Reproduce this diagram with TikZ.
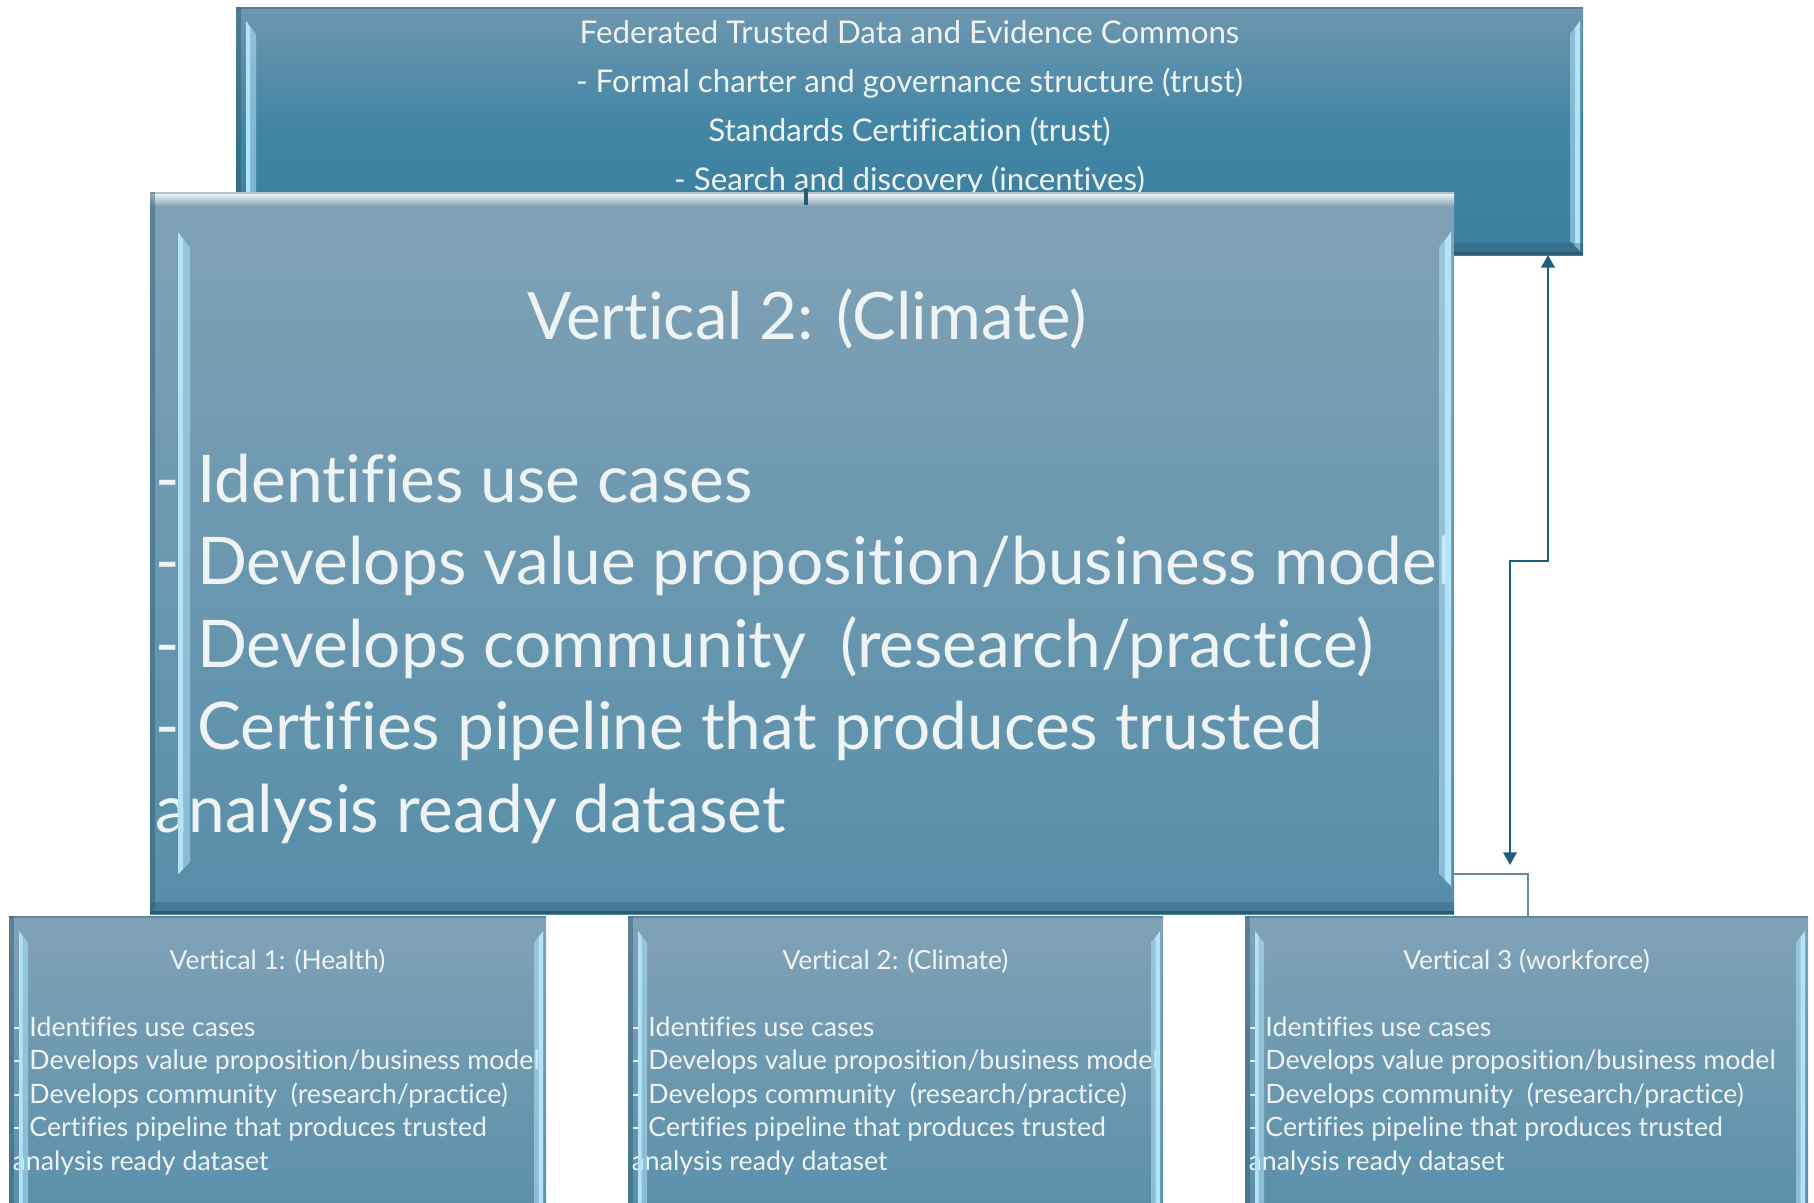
\documentclass[tikz,border=0pt]{standalone}
\usepackage{fontspec}
\setmainfont{Lato}[Ligatures=CommonOff]
\usetikzlibrary{calc,arrows.meta}

\definecolor{comunarriba}{HTML}{6E96AF}
\definecolor{comunmedio}{HTML}{4185A4}
\definecolor{comunabajo}{HTML}{3B7D9C}
\definecolor{cajaarriba}{HTML}{81A2B6}
\definecolor{cajaabajo}{HTML}{568EA9}
\definecolor{brillo}{HTML}{B2E3F8}
\definecolor{sombra}{HTML}{2C5A71}
\definecolor{texto}{HTML}{EEF3F6}
\definecolor{flecha}{HTML}{1E5F80}
\definecolor{gris}{HTML}{6D889B}

\tikzset{
  caja/.style={inner sep=0pt, outer sep=0pt, anchor=north west, draw=none,
    top color=cajaarriba, bottom color=cajaabajo},
  comun/.style={caja, top color=comunarriba, bottom color=comunabajo, middle color=comunmedio},
  textochico/.style={text=texto, inner sep=0pt, font=\fontsize{7.6pt}{9pt}\selectfont},
  textogrande/.style={text=texto, inner sep=0pt, font=\fontsize{18.7pt}{22pt}\selectfont},
  textocomun/.style={text=texto, inner sep=0pt, font=\fontsize{8.9pt}{10pt}\selectfont},
  flechas/.style={flecha, line width=0.7pt, {Triangle[length=3.6pt,width=3.8pt]}-{Triangle[length=3.6pt,width=3.8pt]}},
}

% caja rectangular: nombre, esquina superior izquierda, esquina inferior derecha, estilo
\newcommand{\caja}[6]{%
  \node[#6, minimum width={(#4-#2)*0.01cm}, minimum height={(#5-#3)*0.01cm}] (#1) at (#2,#3) {};}

% bisel de la caja: nombre, separacion del brillo, ancho del brillo, inicio
\newcommand{\bisel}[4]{%
  \fill[sombra, opacity=0.45] (#1.north west) rectangle ($(#1.south west)+(5,0)$);
  \fill[sombra, opacity=0.35] (#1.north west) rectangle ($(#1.north east)+(0,2)$);
  \fill[brillo, opacity=0.55] ($(#1.north west)+(#2,#4)$) -- ($(#1.north west)+(#2+#3,#4+1.3*#3)$)
    -- ($(#1.south west)+(#2+#3,-#4-#3)$) -- ($(#1.south west)+(#2,-#4)$) -- cycle;
  \fill[brillo] ($(#1.north west)+(#2,#4)$) -- ($(#1.north west)+(#2+0.4*#3,#4+0.6*#3)$)
    -- ($(#1.south west)+(#2+0.4*#3,-#4-0.4*#3)$) -- ($(#1.south west)+(#2,-#4)$) -- cycle;
  \fill[brillo, opacity=0.55] ($(#1.north east)+(-3-#3,#4+1.3*#3)$) -- ($(#1.north east)+(-3,#4)$)
    -- ($(#1.south east)+(-3,-#4+#3)$) -- ($(#1.south east)+(-3-#3,-#4)$) -- cycle;
  \fill[brillo] ($(#1.north east)+(-3-0.5*#3,#4+0.7*#3)$) -- ($(#1.north east)+(-3,#4)$)
    -- ($(#1.south east)+(-3,-#4+#3)$) -- ($(#1.south east)+(-3-0.5*#3,-#4+0.5*#3)$) -- cycle;
  \fill[sombra, opacity=0.35] ($(#1.south west)+(0,-12)$) rectangle (#1.south east);
  \fill[sombra] ($(#1.south west)+(0,-3)$) rectangle (#1.south east);}

\begin{document}
\begin{tikzpicture}[x=0.01cm, y=-0.01cm]

    \useasboundingbox (0,0) rectangle (1814,1203);
    \clip (0,0) rectangle (1814,1203);

    % Caja superior
    \caja{comun}{236}{7}{1583}{255}{comun}
    \bisel{comun}{10}{10}{14}
    \foreach \linea [count=\i from 0] in {Federated Trusted Data and Evidence Commons,
        - Formal charter and governance structure (trust),
        Standards Certification (trust),
        - Search and discovery (incentives)}
        \node[textocomun, anchor=base] (comun-\i) at ($(comun.north)+(0,36+\i*49)$) {\linea};

    % Caja grande del centro
    \caja{grande}{150}{192}{1454}{914}{caja}
    \shade[top color=white, bottom color=cajaarriba] (grande.north west) rectangle ($(grande.north east)+(0,14)$);
    \begin{scope}
        \clip (grande.north west) rectangle (grande.south east);
        \node[textogrande, font=\fontsize{18.6pt}{22pt}\selectfont, anchor=base] (grande-titulo)
            at ($(grande.north)+(5,147)$) {Vertical 2: (Climate)};
        \foreach \linea [count=\i from 0] in {- Identifies use cases,
            - Develops value proposition/business model,
            - Develops community~~(research/practice),
            - Certifies pipeline that produces trusted,
            analysis ready dataset}
            \node[textogrande, anchor=base west] (grande-\i) at ($(grande.north west)+(5,310+\i*82.5)$) {\linea};
    \end{scope}
    \bisel{grande}{28}{12}{40}
    \draw[sombra, line width=1pt] ($(grande.north)+(4,-4)$) -- ($(grande.north)+(4,13)$);

    % Las tres verticales de abajo
    \foreach \n/\xa/\xb/\titulo in {vert1/9/546/{Vertical 1: (Health)},
        vert2/628/1163/{Vertical 2: (Climate)},
        vert3/1245/1808/{Vertical 3 (workforce)}} {
        \caja{\n}{\xa}{916}{\xb}{1240}{caja}
        \begin{scope}
            \clip (\n.north west) rectangle (\n.south east);
            \node[textochico, font=\fontsize{7.5pt}{9pt}\selectfont, anchor=base] (\n-titulo)
                at ($(\n.north)+(0,53)$) {\titulo};
            \foreach \linea [count=\i from 0] in {- Identifies use cases,
                - Develops value proposition/business model,
                - Develops community~~(research/practice),
                - Certifies pipeline that produces trusted,
                analysis ready dataset}
                \node[textochico, anchor=base west] (\n-\i) at ($(\n.north west)+(3,120+\i*33.5)$) {\linea};
        \end{scope}
        \bisel{\n}{10}{9}{15}
    }

    % Conectores
    \coordinate (destino) at ($(vert3.north west)+(265,-51)$);
    \draw[flechas] ($(comun.south east)+(-35,0)$) -- ++(0,306) -| (destino);
    \draw[gris, line width=0.6pt] ($(grande.south east)+(0,-40)$) -| ($(vert3.north west)+(283,0)$);

\end{tikzpicture}
\end{document}
